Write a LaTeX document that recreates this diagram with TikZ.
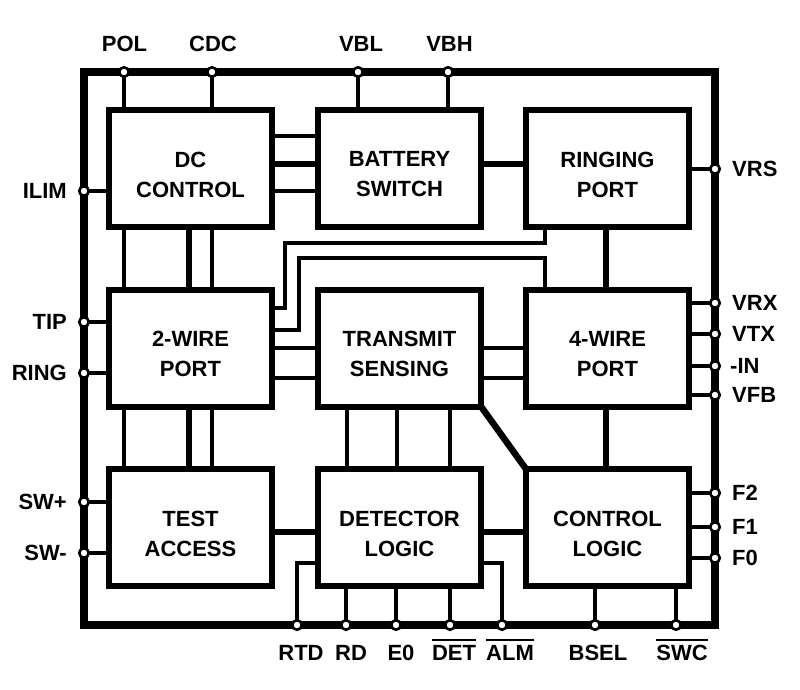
\documentclass[tikz,border=0pt]{standalone}
\usepackage{fontspec}
\setmainfont{Liberation Sans}
\usetikzlibrary{calc}
\newsavebox\ovlbox
\newcommand\ovl[1]{\sbox\ovlbox{#1}\rlap{\rule[\dimexpr\ht\ovlbox+3.5pt\relax]{\wd\ovlbox}{2.3pt}}\usebox\ovlbox}
\begin{document}
\begin{tikzpicture}[x=1pt,y=-1pt,
  font=\fontsize{22}{30}\selectfont\bfseries,
  blk/.style={draw, line width=6pt, fill=white, minimum width=163pt, minimum height=117pt, outer sep=0pt, inner sep=0pt},
  boxtxt/.style={align=center, yshift=-6pt, inner sep=0pt},
  term/.style={circle, draw, fill=white, line width=2.6pt, minimum size=9.5pt, inner sep=0pt, outer sep=0pt},
  wire/.style={line width=3.5pt},
  bus/.style={line width=6.5pt},
  lab/.style={inner sep=0pt}]
\useasboundingbox (0,0) rectangle (800,690);
% frame
\draw[line width=8pt] (84,72) rectangle (715,625);
% blocks
\node[blk, label={[boxtxt]center:{DC\\CONTROL}}] (dc) at (190.5,168.5) {};
\node[blk, label={[boxtxt]center:{BATTERY\\SWITCH}}] (batt) at (399.5,168.5) {};
\node[blk, label={[boxtxt]center:{RINGING\\PORT}}] (rport) at (607.5,168.5) {};
\node[blk, label={[boxtxt]center:{2-WIRE\\PORT}}] (w2) at (190.5,348) {};
\node[blk, label={[boxtxt]center:{TRANSMIT\\SENSING}}] (tx) at (399.5,348) {};
\node[blk, label={[boxtxt]center:{4-WIRE\\PORT}}] (w4) at (607.5,348) {};
\node[blk, label={[boxtxt]center:{TEST\\ACCESS}}] (test) at (190.5,527.5) {};
\node[blk, label={[boxtxt]center:{DETECTOR\\LOGIC}}] (det) at (399.5,527.5) {};
\node[blk, label={[boxtxt]center:{CONTROL\\LOGIC}}] (ctrl) at (607.5,527.5) {};
% pin coordinates
\coordinate (pol) at (124,72);
\coordinate (cdc) at (212,72);
\coordinate (vbl) at (358,72);
\coordinate (vbh) at (448,72);
\coordinate (ilim) at (84,191);
\coordinate (tip) at (84,322);
\coordinate (ringp) at (84,373);
\coordinate (swp) at (84,502);
\coordinate (swm) at (84,553);
\coordinate (vrs) at (715,169);
\coordinate (vrx) at (715,303);
\coordinate (vtx) at (715,334);
\coordinate (nin) at (715,366);
\coordinate (vfb) at (715,395);
\coordinate (ftwo) at (715,493);
\coordinate (fone) at (715,527);
\coordinate (fzero) at (715,558);
\coordinate (rtd) at (297,625);
\coordinate (rd) at (346,625);
\coordinate (ezero) at (396,625);
\coordinate (detp) at (450,625);
\coordinate (alm) at (502,625);
\coordinate (bsel) at (595,625);
\coordinate (swc) at (676,625);
% pin wires
\foreach \p in {pol,cdc} \draw[wire] (\p) -- (\p |- dc.north);
\foreach \p in {vbl,vbh} \draw[wire] (\p) -- (\p |- batt.north);
\draw[wire] (ilim) -- (ilim -| dc.west);
\foreach \p in {tip,ringp} \draw[wire] (\p) -- (\p -| w2.west);
\foreach \p in {swp,swm} \draw[wire] (\p) -- (\p -| test.west);
\draw[wire] (vrs) -- (vrs -| rport.east);
\foreach \p in {vrx,vtx,nin,vfb} \draw[wire] (\p) -- (\p -| w4.east);
\foreach \p in {ftwo,fone,fzero} \draw[wire] (\p) -- (\p -| ctrl.east);
\draw[wire] (rtd) |- ([yshift=-35.5pt]det.west);
\foreach \p in {rd,ezero,detp} \draw[wire] (\p) -- (\p |- det.south);
\draw[wire] (alm) |- ([yshift=-35.5pt]det.east);
\foreach \p in {bsel,swc} \draw[wire] (\p) -- (\p |- ctrl.south);
% block interconnects
\draw[wire] ([yshift=32.5pt]dc.east) -- ([yshift=32.5pt]batt.west);
\draw[bus] ([yshift=4.5pt]dc.east) -- ([yshift=4.5pt]batt.west);
\draw[wire] ([yshift=-22.5pt]dc.east) -- ([yshift=-22.5pt]batt.west);
\draw[bus] ([yshift=4.5pt]batt.east) -- ([yshift=4.5pt]rport.west);
\draw[wire] ([xshift=-66.5pt]dc.south) -- ([xshift=-66.5pt]w2.north);
\draw[bus] ([xshift=-1.5pt]dc.south) -- ([xshift=-1.5pt]w2.north);
\draw[wire] ([xshift=21.5pt]dc.south) -- ([xshift=21.5pt]w2.north);
\draw[wire] ([xshift=-66.5pt]w2.south) -- ([xshift=-66.5pt]test.north);
\draw[bus] ([xshift=-1.5pt]w2.south) -- ([xshift=-1.5pt]test.north);
\draw[wire] ([xshift=21.5pt]w2.south) -- ([xshift=21.5pt]test.north);
\draw[bus] ([xshift=-1.5pt]rport.south) -- ([xshift=-1.5pt]w4.north);
\draw[bus] ([xshift=-1.5pt]w4.south) -- ([xshift=-1.5pt]ctrl.north);
\draw[wire] (w2.east) -- (tx.west);
\draw[wire] ([yshift=-30pt]w2.east) -- ([yshift=-30pt]tx.west);
\draw[wire] (tx.east) -- (w4.west);
\draw[wire] ([yshift=-30pt]tx.east) -- ([yshift=-30pt]w4.west);
\draw[bus] ([yshift=-4.5pt]test.east) -- ([yshift=-4.5pt]det.west);
\draw[bus] ([yshift=-4.5pt]det.east) -- ([yshift=-4.5pt]ctrl.west);
\draw[wire] ([xshift=-52.5pt]tx.south) -- ([xshift=-52.5pt]det.north);
\draw[wire] ([xshift=-2.5pt]tx.south) -- ([xshift=-2.5pt]det.north);
\draw[wire] ([xshift=50.5pt]tx.south) -- ([xshift=50.5pt]det.north);
\draw[bus] (tx.south east) -- (ctrl.north west);
\draw[wire] ([xshift=-62.5pt]rport.south) |- (285,243) |- ([yshift=40pt]w2.east);
\draw[wire] ([xshift=-62.5pt]w4.north) |- (299,258) |- ([yshift=18pt]w2.east);
% pin circles
\foreach \p in {pol,cdc,vbl,vbh,ilim,tip,ringp,swp,swm,vrs,vrx,vtx,nin,vfb,ftwo,fone,fzero,rtd,rd,ezero,detp,alm,bsel,swc}
  \node[term] (c\p) at (\p) {};
% labels
\node[lab, anchor=base] (lpol) at (124.5,52) {POL};
\node[lab, anchor=base] (lcdc) at (213,52) {CDC};
\node[lab, anchor=base] (lvbl) at (361,52) {VBL};
\node[lab, anchor=base] (lvbh) at (449.5,52) {VBH};
\node[lab, anchor=east] (lilim) at (67,191) {ILIM};
\node[lab, anchor=east] (ltip) at (67,322) {TIP};
\node[lab, anchor=east] (lring) at (67,373) {RING};
\node[lab, anchor=east] (lswp) at (67,502) {SW+};
\node[lab, anchor=east] (lswm) at (67,553) {SW-};
\node[lab, anchor=west] (lvrs) at (732,169) {VRS};
\node[lab, anchor=west] (lvrx) at (732,303) {VRX};
\node[lab, anchor=west] (lvtx) at (732,334) {VTX};
\node[lab, anchor=west] (lnin) at (730,366) {-IN};
\node[lab, anchor=west] (lvfb) at (732,395) {VFB};
\node[lab, anchor=west] (lftwo) at (732,493) {F2};
\node[lab, anchor=west] (lfone) at (732,527) {F1};
\node[lab, anchor=west] (lfzero) at (732,558) {F0};
\node[lab, anchor=base] (lrtd) at (301,660) {RTD};
\node[lab, anchor=base] (lrd) at (351,660) {RD};
\node[lab, anchor=base] (lezero) at (401,660) {E0};
\node[lab, anchor=base] (ldet) at (454,660) {\ovl{DET}};
\node[lab, anchor=base] (lalm) at (510,660) {\ovl{ALM}};
\node[lab, anchor=base] (lbsel) at (598,660) {BSEL};
\node[lab, anchor=base] (lswc) at (682,660) {\ovl{SWC}};
\end{tikzpicture}
\end{document}
